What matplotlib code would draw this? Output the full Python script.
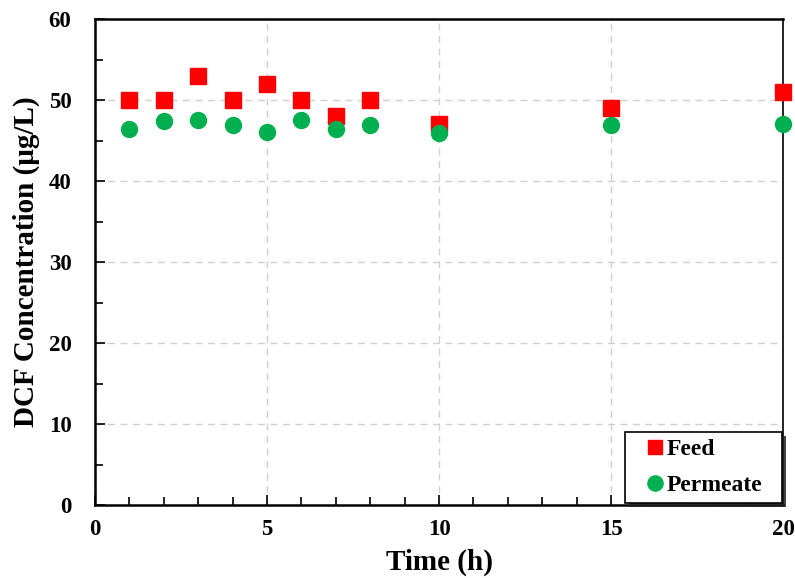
import numpy as np
import matplotlib.pyplot as plt
from matplotlib.ticker import MultipleLocator
from matplotlib.patches import Rectangle

# Data
time_h = [1, 2, 3, 4, 5, 6, 7, 8, 10, 15, 20]
feed = [50, 50, 53, 50, 52, 50, 48, 50, 47, 49, 51]
permeate = [46.4, 47.4, 47.5, 46.9, 46.1, 47.5, 46.4, 46.9, 45.9, 46.9, 47.0]

plt.rcParams['font.family'] = ['Liberation Serif', 'DejaVu Serif']
plt.rcParams['font.weight'] = 'bold'

fig = plt.figure(figsize=(7.95, 5.78), dpi=100)
ax = fig.add_axes([0.1195, 0.1263, 0.8655, 0.8407])

ax.plot(time_h, feed, 's', color='#ff0000', markersize=11, label='Feed',
        zorder=3, clip_on=False)
ax.plot(time_h, permeate, 'o', color='#00b050', markersize=11.5, label='Permeate',
        zorder=3, clip_on=False)

ax.set_xlim(0, 20)
ax.set_ylim(0, 60)
ax.xaxis.set_major_locator(MultipleLocator(5))
ax.xaxis.set_minor_locator(MultipleLocator(1))
ax.yaxis.set_major_locator(MultipleLocator(10))
ax.yaxis.set_minor_locator(MultipleLocator(5))
ax.tick_params(which='both', direction='in', labelsize=16.5, width=1.2)
ax.tick_params(which='major', length=7, pad=10)
ax.tick_params(which='minor', length=6)
ax.tick_params(axis='y', which='major', pad=17)
for lab in ax.get_xticklabels() + ax.get_yticklabels():
    lab.set_fontweight('bold')

ax.grid(True, which='major', linestyle=(0, (5, 4)), color='#d0d0d0', linewidth=1)
ax.set_axisbelow(True)
for side in ['left', 'bottom', 'top']:
    ax.spines[side].set_linewidth(1.8)
ax.spines['right'].set_linewidth(1.2)

ax.set_xlabel('Time (h)', fontsize=21, fontweight='bold', labelpad=6)
ax.set_ylabel('DCF Concentration (μg/L)', fontsize=21, fontweight='bold', labelpad=6)

leg = ax.legend(loc='lower left', bbox_to_anchor=(0.770, 0.004, 0.228, 0.1),
                mode='expand', borderaxespad=0, fontsize=17, frameon=True,
                fancybox=False, framealpha=1, borderpad=0.3, handlelength=1.95,
                handletextpad=-0.47, labelspacing=0.6, markerscale=0.95)
leg.get_frame().set_edgecolor('black')
leg.get_frame().set_linewidth(1.2)
leg.set_zorder(6)
for t in leg.get_texts():
    t.set_fontweight('bold')

# dark drop shadow behind the legend box
fig.canvas.draw()
bb = leg.get_window_extent().transformed(fig.transFigure.inverted())
dx, dy = 4 / 795, 4 / 578
ax.add_patch(Rectangle((bb.x0 + dx, bb.y0 - dy), bb.width, bb.height,
                       transform=fig.transFigure, facecolor='#222222',
                       edgecolor='none', alpha=0.85, zorder=5, clip_on=False))

fig.savefig('out.png', dpi=100)
